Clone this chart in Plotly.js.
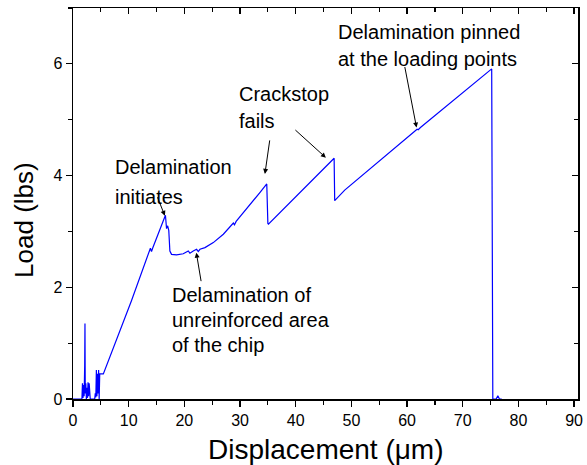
<!DOCTYPE html>
<html>
<head>
<meta charset="utf-8">
<script src="https://cdn.plot.ly/plotly-3.0.1.min.js"></script>
<style>html,body{margin:0;padding:0;background:#fff;}#chart{width:587px;height:465px;}</style>
</head>
<body>
<div id="chart"></div>
<script>
// Displacement (um) and Load (lbs)
const displacement = [0, 1.6, 1.7, 1.8, 1.9, 2.0, 2.1, 2.15, 2.2, 2.3, 2.4, 2.5, 2.6, 2.7, 2.8, 2.9, 3.0, 3.1, 3.5, 3.9, 4.0, 4.1, 4.2, 4.3, 4.4, 4.5, 4.6, 4.7, 4.8, 5.45,
  10.5, 13.9, 14.1, 14.3, 16.6, 16.8, 17.0, 17.2, 17.4, 17.7, 18.6, 19.8, 20.7, 21.0, 21.6, 22.2, 22.5, 22.8, 23.7, 24.3, 25.2, 27.0, 28.8, 29.0, 29.3, 33.6, 34.8, 35.0, 35.1,
  46.9, 47.0, 48.8, 53.3, 61.8, 62.0, 62.4, 75.2, 75.4, 76.0, 76.3, 76.6, 77.0];
const load = [0, 0, 0.28, 0.02, 0.25, 0.05, 0.6, 1.35, 0.1, 0.28, 0.0, 0.2, 0.02, 0.3, 0.05, 0.28, 0.0, 0.0, 0.0, 0.0, 0.1, 0.03, 0.52, 0.05, 0.45, 0.1, 0.52, 0.0, 0.45, 0.45,
  1.76, 2.70, 2.64, 2.70, 3.29, 3.05, 3.10, 3.02, 2.65, 2.59, 2.58, 2.60, 2.65, 2.61, 2.65, 2.68, 2.64, 2.68, 2.71, 2.74, 2.80, 2.95, 3.15, 3.12, 3.18, 3.70, 3.85, 3.14, 3.13,
  4.31, 3.55, 3.74, 4.12, 4.83, 4.82, 4.86, 5.91, 0.0, 0.0, 0.06, 0.0, 0.0];

const xTickVals = [0, 10, 20, 30, 40, 50, 60, 70, 80, 90];
const yTickVals = [0, 2, 4, 6];

const xTitle = 'Displacement (μm)';
const yTitle = 'Load (lbs)';

// one entry per text line
const labelLines = [
  {text: 'Delamination', x: 7.13, y: 4.15},
  {text: 'initiates', x: 7.13, y: 3.62},
  {text: 'Delamination of', x: 17.42, y: 1.867},
  {text: 'unreinforced area', x: 17.42, y: 1.42},
  {text: 'of the chip', x: 17.42, y: 0.972},
  {text: 'Crackstop', x: 29.5, y: 5.466},
  {text: 'fails', x: 29.5, y: 4.98},
  {text: 'Delamination pinned', x: 47.2, y: 6.565},
  {text: 'at the loading points', x: 47.2, y: 6.087}
];
const arrows = [
  {x: 16.5, y: 3.28, ax: -8, ay: -20},
  {x: 22.15, y: 2.62, ax: 5, ay: 30},
  {x: 34.47, y: 4.03, ax: 5, ay: -35},
  {x: 45.42, y: 4.32, ax: -32, ay: -29},
  {x: 61.7, y: 4.86, ax: -12, ay: -62}
];

const font = 'Arial, "Liberation Sans", sans-serif';

const traces = [
  {x: displacement, y: load, type: 'scatter', mode: 'lines', line: {color: '#0000ff', width: 1.2}, hoverinfo: 'skip'},
  {x: [], y: [], xaxis: 'x2', yaxis: 'y2', type: 'scatter', mode: 'lines', showlegend: false}
];

const annotations = [];
labelLines.forEach(l => annotations.push({
  text: l.text, x: l.x, y: l.y, xref: 'x', yref: 'y', xanchor: 'left', yanchor: 'middle',
  align: 'left', showarrow: false, font: {family: font, size: 20, color: '#000'}
}));
arrows.forEach(a => annotations.push({
  text: '', x: a.x, y: a.y, xref: 'x', yref: 'y', ax: a.ax, ay: a.ay, showarrow: true,
  arrowhead: 2, arrowsize: 1, arrowwidth: 1, arrowcolor: '#000', standoff: 0
}));
annotations.push({text: xTitle, xref: 'paper', yref: 'paper', x: 0.501, y: -0.128, xanchor: 'center', yanchor: 'middle',
  showarrow: false, font: {family: font, size: 28, color: '#000'}});
annotations.push({text: yTitle, xref: 'paper', yref: 'paper', x: -0.097, y: 0.458, xanchor: 'center', yanchor: 'middle',
  textangle: -90, showarrow: false, font: {family: font, size: 26, color: '#000'}});

const axBase = {
  showgrid: false, zeroline: false, showline: true, linecolor: '#000', linewidth: 1.5,
  tickcolor: '#000', tickwidth: 1.2, tickfont: {family: font, size: 16, color: '#000'}
};

const layout = {
  width: 587, height: 465,
  margin: {l: 73, r: 9, t: 8, b: 66},
  paper_bgcolor: '#fff', plot_bgcolor: '#fff',
  showlegend: false,
  font: {family: font, color: '#000'},
  xaxis: Object.assign({}, axBase, {
    range: [0, 90.7], tickmode: 'array', tickvals: xTickVals, ticks: 'outside', ticklen: 6,
    minor: {dtick: 5, tick0: 0, ticks: 'outside', ticklen: 4, tickcolor: '#000', tickwidth: 1.2}
  }),
  yaxis: Object.assign({}, axBase, {
    range: [0, 7], tickmode: 'array', tickvals: yTickVals, ticks: 'outside', ticklen: 6,
    minor: {dtick: 1, tick0: 0, ticks: 'outside', ticklen: 4, tickcolor: '#000', tickwidth: 1.2}
  }),
  xaxis2: Object.assign({}, axBase, {
    overlaying: 'x', side: 'top', anchor: 'y2', range: [0, 90.7], tickmode: 'array', tickvals: xTickVals,
    ticks: 'inside', ticklen: 6, showticklabels: false,
    minor: {dtick: 5, tick0: 0, ticks: 'inside', ticklen: 4, tickcolor: '#000', tickwidth: 1.2}
  }),
  yaxis2: Object.assign({}, axBase, {
    overlaying: 'y', side: 'right', anchor: 'x2', range: [0, 7], tickmode: 'array', tickvals: yTickVals,
    ticks: 'inside', ticklen: 6, showticklabels: false,
    minor: {dtick: 1, tick0: 0, ticks: 'inside', ticklen: 4, tickcolor: '#000', tickwidth: 1.2}
  }),
  annotations: annotations
};

Plotly.newPlot('chart', traces, layout, {staticPlot: true, displayModeBar: false});
</script>
</body>
</html>
